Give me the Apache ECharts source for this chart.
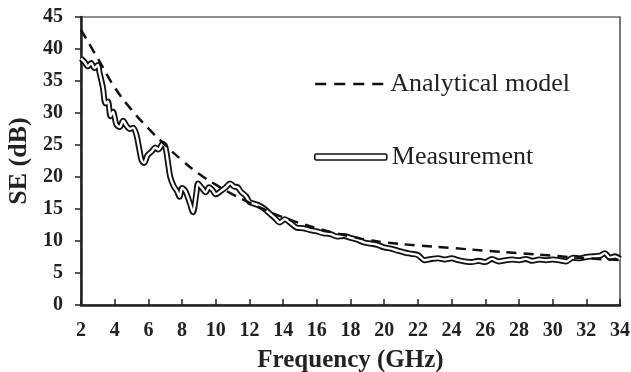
<!DOCTYPE html>
<html>
<head>
<meta charset="utf-8">
<script src="https://cdn.jsdelivr.net/npm/echarts@6/dist/echarts.min.js"></script>
<style>
  html, body { margin: 0; padding: 0; background: #fff; }
</style>
</head>
<body>
<div id="main" style="width: 631px; height: 372px;"></div>
<script>
// analytical model (dashed)
var modelFreq = [2, 3, 4, 5, 6, 7, 8, 9, 10, 11, 12, 13, 14, 15, 16, 17, 18, 19, 20, 22, 24, 26, 28, 30, 32, 34]
var modelSE = [43, 38.5, 34, 30.5, 27.6, 25, 22.6, 20.5, 18.8, 17.3, 16, 14.8, 13.7, 12.8, 12, 11.3, 10.7, 10.2, 9.8, 9.3, 8.9, 8.5, 8.1, 7.7, 7.3, 7.0]

// measurement
var measFreq = [2.0, 2.2, 2.4, 2.6, 2.8, 3.0, 3.1, 3.3, 3.45, 3.6, 3.75, 3.9, 4.1, 4.3, 4.5, 4.7, 4.9, 5.1, 5.3, 5.45,
  5.6, 5.75, 5.95, 6.2, 6.4, 6.6, 6.85, 7.0, 7.15, 7.3, 7.5, 7.7, 7.85, 8.0, 8.2, 8.45, 8.65, 8.85, 8.95, 9.2,
  9.4, 9.6, 9.8, 10.0, 10.3, 10.6, 10.85, 11.1, 11.3, 11.5, 11.8, 12.0, 12.3, 12.6, 12.9, 13.2, 13.5, 13.8, 14.1, 14.4,
  14.8, 15.2, 15.6, 16.0, 16.4, 16.8, 17.2, 17.6, 18.0, 18.4, 18.8, 19.2, 19.6, 20.0, 20.4, 20.8, 21.2, 21.6, 22.0, 22.4,
  22.8, 23.2, 23.6, 24.0, 24.4, 24.8, 25.2, 25.6, 26.0, 26.4, 26.8, 27.2, 27.6, 28.0, 28.4, 28.8, 29.2, 29.6, 30.0, 30.4,
  30.8, 31.2, 31.6, 32.0, 32.4, 32.8, 33.1, 33.4, 33.7, 34.0]
var measSE = [38.5, 38.0, 37.3, 37.8, 37.0, 37.5, 36.3, 34.0, 31.5, 31.8, 29.5, 30.2, 28.2, 27.8, 28.8, 28.0, 27.5, 27.7, 26.5, 24.5,
  22.6, 22.2, 23.4, 24.0, 24.6, 24.3, 25.2, 24.8, 22.5, 20.0, 18.6, 17.8, 16.9, 18.3, 17.8, 16.0, 14.5, 17.5, 19.0, 18.2,
  17.6, 18.4, 18.0, 17.3, 17.8, 18.4, 19.0, 18.5, 18.4, 17.7, 17.0, 16.1, 15.8, 15.5, 15.0, 14.3, 13.6, 12.9, 13.4, 12.9,
  12.1, 12.0, 11.7, 11.5, 11.2, 11.1, 10.7, 10.8, 10.5, 10.2, 9.8, 9.6, 9.4, 9.0, 8.8, 8.5, 8.2, 8.0, 7.8, 7.0,
  7.2, 7.3, 7.1, 7.3, 7.0, 6.8, 6.7, 6.9, 6.7, 7.2, 6.8, 7.0, 7.1, 7.0, 7.2, 6.9, 7.1, 7.0, 7.1, 7.0,
  6.8, 7.4, 7.3, 7.5, 7.6, 7.7, 8.1, 7.4, 7.6, 7.2]

function pairs(xs, ys) {
  var out = []
  for (var i = 0; i < xs.length; i++) {
    out.push([xs[i], ys[i]])
  }
  return out
}

var serif = '"Liberation Serif", "Times New Roman", serif'
var chartDom = document.getElementById('main')
var myChart = echarts.init(chartDom)

var option = {
  animation: false,
  backgroundColor: '#fff',
  grid: {
    left: 81,
    right: 11,
    top: 17,
    bottom: 67,
    outerBoundsMode: 'none',
    containLabel: false,
    show: true,
    borderColor: '#222',
    borderWidth: 1.2
  },
  legend: [
    {
      data: [{
        name: 'Analytical model',
        itemStyle: { opacity: 0 },
        lineStyle: { color: '#111', width: 2.5, type: [11, 8] }
      }],
      left: 309,
      top: 66,
      itemWidth: 70,
      itemHeight: 14,
      textStyle: { fontFamily: serif, fontSize: 26, color: '#222' }
    },
    {
      data: [{
        name: 'Measurement',
        icon: 'roundRect',
        itemStyle: { color: '#fff', borderColor: '#111', borderWidth: 1.6 }
      }],
      left: 309,
      top: 139,
      itemWidth: 72,
      itemHeight: 6,
      textStyle: { fontFamily: serif, fontSize: 26, color: '#222' }
    }
  ],
  xAxis: {
    type: 'value',
    min: 2,
    max: 34,
    interval: 2,
    name: 'Frequency (GHz)',
    nameLocation: 'middle',
    nameGap: 43,
    nameTextStyle: { fontFamily: serif, fontSize: 25, fontWeight: 'bold', color: '#222' },
    axisLine: { lineStyle: { color: '#222', width: 2.5 } },
    axisTick: { inside: true, length: 6, lineStyle: { color: '#222', width: 1.5 } },
    axisLabel: { fontFamily: serif, fontSize: 20, fontWeight: 'bold', color: '#222', margin: 16 },
    splitLine: { show: false }
  },
  yAxis: {
    type: 'value',
    min: 0,
    max: 45,
    interval: 5,
    name: 'SE (dB)',
    nameLocation: 'middle',
    nameGap: 49,
    nameTextStyle: { fontFamily: serif, fontSize: 26, fontWeight: 'bold', color: '#222' },
    axisLine: { show: true, lineStyle: { color: '#222', width: 2.5 } },
    axisTick: { show: true, inside: false, length: 6, lineStyle: { color: '#222', width: 1.5 } },
    axisLabel: { fontFamily: serif, fontSize: 20, fontWeight: 'bold', color: '#222', margin: 18 },
    splitLine: { show: false }
  },
  series: [
    {
      name: 'Measurement',
      type: 'line',
      data: pairs(measFreq, measSE),
      showSymbol: false,
      symbol: 'none',
      smooth: 0.3,
      lineStyle: { color: '#111', width: 6 },
      itemStyle: { color: '#111' },
      z: 2
    },
    {
      name: 'Measurement core',
      type: 'line',
      data: pairs(measFreq, measSE),
      showSymbol: false,
      symbol: 'none',
      smooth: 0.3,
      lineStyle: { color: '#fff', width: 2.4 },
      z: 3
    },
    {
      name: 'Analytical model',
      type: 'line',
      data: pairs(modelFreq, modelSE),
      showSymbol: false,
      symbol: 'none',
      smooth: true,
      lineStyle: { color: '#111', width: 2.5, type: [10, 7] },
      itemStyle: { color: '#111' },
      z: 4
    }
  ]
}

option && myChart.setOption(option)
</script>
</body>
</html>
